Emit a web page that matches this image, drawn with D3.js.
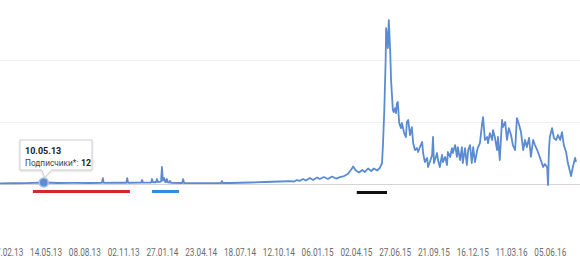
<!DOCTYPE html>
<html><head><meta charset="utf-8">
<script src="https://cdn.jsdelivr.net/npm/d3@7"></script>
<style>
html,body{margin:0;padding:0;background:#fff;}
svg{display:block;font-family:Roboto,"Noto Sans",Arial,sans-serif;}
</style></head>
<body><svg id="c" width="580" height="266"></svg>
<script>
const dates = [
"2013-02-02","2013-03-01","2013-04-01","2013-05-10","2013-06-10","2013-07-15","2013-08-20",
"2013-09-16","2013-09-18","2013-09-20","2013-10-15","2013-11-09","2013-11-11","2013-11-13",
"2013-12-12","2013-12-14","2013-12-16","2014-01-03","2014-01-05","2014-01-07","2014-01-14",
"2014-01-16","2014-01-18","2014-01-25","2014-01-27","2014-01-29","2014-02-01","2014-02-03",
"2014-02-05","2014-02-07","2014-02-09","2014-02-12","2014-02-14","2014-02-16","2014-03-13",
"2014-03-15","2014-03-17","2014-04-20","2014-06-07","2014-06-09","2014-06-11","2014-06-27",
"2014-08-10","2014-09-12","2014-10-16","2014-11-07","2014-11-16","2014-11-22","2014-11-29",
"2014-12-06","2014-12-12","2014-12-21","2014-12-28","2015-01-06","2015-01-12","2015-01-21",
"2015-01-30","2015-02-08","2015-02-17","2015-02-26","2015-03-07","2015-03-15","2015-03-22",
"2015-03-27","2015-04-02","2015-04-09","2015-04-16","2015-04-22","2015-04-29","2015-05-06",
"2015-05-12","2015-05-19","2015-05-25","2015-05-30","2015-06-01","2015-06-04","2015-06-07",
"2015-06-08","2015-06-10","2015-06-12","2015-06-14","2015-06-17","2015-06-19","2015-06-21",
"2015-06-23","2015-06-25","2015-06-28","2015-06-30","2015-07-02","2015-07-04","2015-07-07",
"2015-07-11","2015-07-13","2015-07-18","2015-07-22","2015-07-24","2015-07-27","2015-07-31",
"2015-08-04","2015-08-07","2015-08-11","2015-08-15","2015-08-18","2015-08-22","2015-08-27",
"2015-08-29","2015-09-02","2015-09-07","2015-09-09","2015-09-13","2015-09-18","2015-09-20",
"2015-09-22","2015-09-29","2015-10-01","2015-10-05","2015-10-10","2015-10-12","2015-10-17",
"2015-10-21","2015-10-23","2015-10-28","2015-11-01","2015-11-03","2015-11-08","2015-11-12",
"2015-11-14","2015-11-19","2015-11-23","2015-11-25","2015-11-30","2015-12-04","2015-12-07",
"2015-12-11","2015-12-15","2015-12-18","2015-12-22","2015-12-27","2015-12-29","2016-01-02",
"2016-01-07","2016-01-09","2016-01-13","2016-01-18","2016-01-20","2016-01-24","2016-01-29",
"2016-01-31","2016-02-04","2016-02-09","2016-02-11","2016-02-15","2016-02-20","2016-02-22",
"2016-02-27","2016-03-02","2016-03-06","2016-03-11","2016-03-15","2016-03-20","2016-03-24",
"2016-03-29","2016-04-02","2016-04-07","2016-04-11","2016-04-15","2016-04-20","2016-04-24",
"2016-04-29","2016-05-03","2016-05-08","2016-05-12","2016-05-16","2016-05-21","2016-05-25",
"2016-05-30","2016-06-01","2016-06-03","2016-06-05","2016-06-10","2016-06-14","2016-06-19",
"2016-06-23","2016-06-28","2016-07-02","2016-07-06","2016-07-11","2016-07-15","2016-07-20",
"2016-07-22","2016-07-26","2016-07-31","2016-08-02"
];
const subscribers = [
5,6,7,12,8,9,8,
9,48,9,10,10,48,10,
11,32,11,12,40,14,14,
40,16,20,137,28,48,18,
16,40,14,12,24,10,8,
40,8,7,8,24,8,8,
12,16,20,24,20,32,26,
40,28,48,32,52,40,56,
40,60,44,56,64,80,113,
141,109,93,113,97,125,105,
125,109,129,169,314,596,1000,
1257,1193,1096,1322,1080,838,717,
596,580,612,572,653,661,492,
451,492,411,379,500,516,395,
459,330,274,290,258,298,339,
250,177,210,137,177,234,379,
169,250,193,137,234,177,218,
153,258,218,290,250,314,218,
298,193,298,169,290,153,274,
314,169,298,177,274,298,330,
492,540,355,379,330,411,355,
435,379,274,379,193,516,459,
500,355,451,395,314,274,532,
475,419,274,355,298,371,218,
355,314,274,234,193,137,161,
137,-8,274,379,451,371,355,
395,355,419,314,258,169,97,
64,137,210,177
];
const tickDates = ["2013-02-17","2013-05-14","2013-08-08","2013-11-02","2014-01-27","2014-04-23","2014-07-18","2014-10-12","2015-01-06","2015-04-02","2015-06-27","2015-09-21","2015-12-16","2016-03-11","2016-06-05"];
const gridValues = [500, 1000];
const highlightStart = ["2013-04-16","2014-01-05","2015-04-04"];
const highlightEnd   = ["2013-11-17","2014-03-06","2015-06-10"];
const highlightColor = ["#d7262b","#2f8ee0","#111111"];
const tipDate = "2013-05-10";
const tipLabel = "Подписчики*:";
const tipValue = 12;

const parse = d3.timeParse("%Y-%m-%d");
const data = dates.map((d,i)=>({date:parse(d), v:subscribers[i]}));
const svg = d3.select("#c");
const x = d3.scaleTime().domain([parse("2013-02-02"), parse("2016-08-02")]).range([0,576]);
const y = d3.scaleLinear().domain([0,1000]).range([184,60]);

// gridlines
svg.append("g").selectAll("line").data(gridValues).join("line")
  .attr("x1",0).attr("x2",580).attr("y1",d=>y(d)+0.5).attr("y2",d=>y(d)+0.5)
  .attr("stroke","#efefef").attr("stroke-width",1);
// baseline
svg.append("line").attr("x1",0).attr("x2",580).attr("y1",y(0)+0.5).attr("y2",y(0)+0.5)
  .attr("stroke","#d4d4d4").attr("stroke-width",1);

// x axis labels
const xAxis = d3.axisBottom(x).tickValues(tickDates.map(parse)).tickFormat(d3.timeFormat("%d.%m.%y")).tickSize(0).tickPadding(0);
const ax = svg.append("g").attr("transform","translate(0,249)").call(xAxis);
ax.select(".domain").remove();
ax.selectAll("text").attr("fill","#6b6b6b").attr("font-size","10px").attr("dy","0.71em")
  .attr("textLength",32).attr("lengthAdjust","spacingAndGlyphs")
  .attr("font-family","Roboto, 'Noto Sans', Arial, sans-serif");

// line
svg.append("path").datum(data)
  .attr("d", d3.line().x(d=>x(d.date)).y(d=>y(d.v)))
  .attr("fill","none").attr("stroke","#5b8bd1").attr("stroke-width",1.8).attr("stroke-linejoin","round");

// highlight underlines
svg.append("g").selectAll("line").data(highlightStart).join("line")
  .attr("x1",(d)=>x(parse(d))).attr("x2",(d,i)=>x(parse(highlightEnd[i])))
  .attr("y1",(d,i)=> i===2?192.5:191.5).attr("y2",(d,i)=> i===2?192.5:191.5)
  .attr("stroke",(d,i)=>highlightColor[i]).attr("stroke-width",3);

// tooltip point
const tx = x(parse(tipDate)), ty = y(tipValue);
svg.append("circle").attr("cx",tx).attr("cy",ty).attr("r",4.5)
  .attr("fill","#5e8cd0").attr("stroke","#a9c1e6").attr("stroke-width",1.5);

// tooltip box
const tip = svg.append("g");
const bx = 20, by = 140, bw = 72, bh = 30;
tip.append("path")
  .attr("d",`M${bx},${by} H${bx+bw} V${by+bh} H${tx+8} L${tx+1},${ty-5} L${tx-2},${by+bh} H${bx} Z`)
  .attr("fill","#fff").attr("stroke","#cfcfcf").attr("stroke-width",1)
  .style("filter","drop-shadow(0px 1px 1px rgba(0,0,0,0.12))");
tip.append("text").attr("x",bx+5).attr("y",by+14).attr("font-size","9px").attr("font-weight","bold").attr("fill","#222")
  .text(d3.timeFormat("%d.%m.%y")(parse(tipDate)));
const lab = tip.append("text").attr("x",bx+5).attr("y",by+26).attr("font-size","8.3px").attr("fill","#444").text(tipLabel);
const lw = lab.node().getComputedTextLength();
tip.append("text").attr("x",bx+5+lw+2.5).attr("y",by+26).attr("font-size","8.8px").attr("font-weight","bold").attr("fill","#222")
  .text(tipValue);
</script></body></html>
